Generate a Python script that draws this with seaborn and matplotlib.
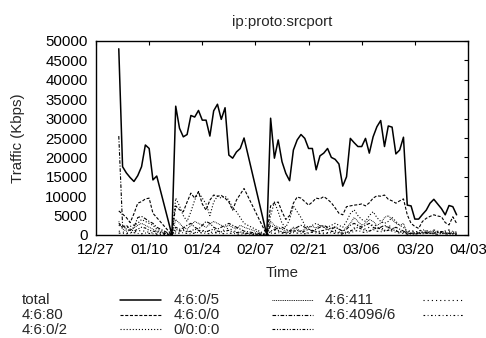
import pandas as pd
import numpy as np
import matplotlib
matplotlib.use('Agg')
import matplotlib.pyplot as plt
import matplotlib.dates as mdates
from matplotlib.lines import Line2D
import seaborn as sns

# day offsets from 2003-12-27 that have samples (gaps are drawn straight across)
day_offsets = list(range(6, 17)) + [20] + list(range(21, 40)) + [45] + list(range(46, 96))
start = pd.Timestamp('2003-12-27')
dates = start + pd.to_timedelta(day_offsets, unit='D')

# traffic in thousands of Kbps, one list per series
total = [48.0, 17.6, 16.0, 14.8, 13.8, 15.3, 17.6, 23.2, 22.3, 14.2, 15.2,
         0,
         33.2, 27.5, 25.3, 25.9, 30.8, 30.4, 32.1, 29.6, 29.6, 25.5, 32.0, 33.7, 29.8, 32.8,
         20.6, 19.8, 21.4, 22.3, 25.0,
         0,
         30.1, 19.8, 24.5, 18.9, 15.9, 14.0, 21.9, 24.5, 25.9, 24.9,
         22.3, 22.3, 16.8, 20.4, 21.1, 22.3, 20.0, 19.5, 18.3, 12.6,
         15.0, 24.9, 23.8, 22.8, 22.8, 24.9, 21.1, 25.3, 27.9, 29.5,
         22.8, 28.1, 27.8, 20.9, 21.9, 25.2, 7.7, 7.5, 4.1, 4.1,
         5.3, 6.4, 8.2, 9.2, 8.0, 6.8, 5.2, 7.6, 7.3, 5.2]
p80 = [6.2, 5.4, 4.5, 3.2, 5.5, 8.2, 8.6, 9.3, 9.5, 5.6, 4.5,
       0,
       7.5, 6.5, 6.0, 8.5, 10.8, 9.5, 11.2, 8.0, 6.4, 9.0, 10.3, 10.0, 10.2, 9.5,
       8.5, 6.4, 9.0, 10.5, 12.0,
       0,
       7.5, 8.2, 8.5, 6.0, 4.0, 5.0, 8.2, 9.8, 9.5, 8.6,
       7.7, 8.5, 9.5, 9.3, 9.9, 9.2, 8.3, 7.0, 5.6, 5.2,
       7.3, 7.5, 7.7, 7.8, 8.0, 7.5, 8.3, 9.5, 10.1, 10.0,
       10.3, 9.2, 8.8, 8.2, 8.8, 9.3, 5.2, 3.0, 2.2, 1.7,
       3.5, 4.3, 4.8, 5.2, 4.9, 4.7, 3.2, 2.6, 4.7, 3.0]
p0_2 = [2.5, 2.0, 1.8, 2.2, 2.6, 3.0, 4.0, 3.5, 3.0, 2.5, 1.5,
        0,
        9.5, 7.5, 5.0, 3.5, 6.0, 9.0, 11.0, 9.5, 8.0, 5.0, 8.5, 10.0, 9.5, 10.0,
        9.0, 7.0, 6.0, 4.5, 3.0,
        0,
        5.0, 8.5, 6.0, 3.0, 2.0, 4.0, 7.5, 6.0, 4.5, 2.5,
        2.0, 2.5, 3.0, 2.5, 2.0, 2.0, 2.5, 3.0, 2.5, 2.0,
        3.5, 5.5, 6.5, 5.0, 4.0, 3.5, 5.0, 6.0, 4.5, 3.5,
        3.0, 3.5, 4.5, 3.5, 2.5, 2.0, 0.8, 0.5, 0.3, 0.4,
        0.6, 0.8, 0.5, 0.4, 0.7, 0.6, 0.4, 0.5, 0.3, 0.2]
p0_5 = [3.5, 1.5, 1.0, 1.2, 1.8, 2.5, 3.0, 2.5, 2.0, 1.5, 1.0,
        0,
        4.0, 3.0, 2.0, 1.5, 2.5, 3.5, 3.0, 2.5, 2.0, 2.8, 3.5, 3.0, 2.5, 2.0,
        2.5, 2.0, 1.5, 2.5, 2.0,
        0,
        3.5, 2.5, 2.0, 1.5, 1.0, 1.2, 2.0, 1.5, 1.0, 1.5,
        2.0, 2.2, 1.8, 2.5, 2.0, 1.5, 1.8, 2.2, 1.5, 1.0,
        2.0, 3.0, 4.5, 3.5, 2.5, 3.0, 4.0, 3.5, 2.5, 3.0,
        4.5, 5.0, 4.0, 3.0, 2.5, 3.0, 0.5, 0.4, 0.3, 0.5,
        0.6, 0.4, 0.7, 0.9, 0.6, 0.5, 0.4, 0.6, 0.5, 0.3]
p0_0 = [25.5, 2.5, 1.5, 1.2, 2.0, 4.5, 4.8, 4.2, 3.5, 3.0, 2.0,
        0,
        2.0, 1.5, 1.8, 2.5, 3.0, 2.0, 1.5, 2.5, 3.5, 3.0, 2.0, 1.5, 2.0, 2.5,
        3.0, 2.5, 2.0, 1.5, 1.0,
        0,
        2.5, 2.0, 1.5, 2.0, 1.5, 1.0, 1.5, 2.0, 2.5, 2.0,
        1.5, 1.0, 1.5, 2.0, 2.5, 2.0, 1.5, 2.0, 1.5, 1.0,
        1.5, 2.5, 3.0, 2.5, 2.0, 2.5, 3.0, 2.0, 1.5, 2.0,
        2.5, 2.0, 1.5, 2.0, 1.5, 1.0, 0.3, 0.4, 0.6, 0.5,
        0.8, 0.6, 0.4, 0.5, 0.7, 0.9, 0.6, 0.4, 0.5, 0.3]
p_any = [3.0, 2.0, 2.5, 1.5, 1.0, 1.5, 2.0, 1.8, 1.2, 1.0, 0.8,
         0,
         1.5, 1.0, 1.2, 0.8, 1.0, 1.5, 1.2, 1.0, 0.8, 1.2, 1.5, 1.0, 0.8, 1.0,
         1.2, 0.8, 0.6, 0.8, 0.5,
         0,
         1.0, 1.5, 1.2, 0.8, 0.6, 0.8, 1.0, 1.2, 0.8, 1.0,
         1.5, 1.2, 0.8, 1.0, 1.2, 1.5, 1.0, 0.8, 0.6, 0.5,
         0.8, 1.0, 1.5, 2.0, 1.5, 1.2, 1.0, 1.5, 2.0, 1.5,
         1.0, 1.2, 1.5, 1.0, 0.8, 0.6, 0.2, 0.3, 0.2, 0.4,
         0.3, 0.5, 0.4, 0.3, 0.2, 0.4, 0.3, 0.2, 0.3, 0.2]
p411 = [1.0, 0.8, 0.5, 0.6, 0.8, 1.0, 1.2, 0.9, 0.7, 0.5, 0.4,
        0,
        0.8, 1.2, 1.5, 1.0, 0.8, 0.6, 0.9, 1.2, 1.0, 0.8, 0.6, 0.8, 1.0, 1.4,
        1.8, 1.2, 0.8, 0.6, 0.5,
        0,
        0.8, 1.2, 1.0, 0.6, 0.5, 0.7, 0.9, 1.1, 0.8, 0.6,
        0.5, 0.8, 1.0, 0.7, 0.5, 0.6, 0.9, 1.2, 0.8, 0.4,
        0.6, 1.0, 1.8, 2.5, 2.0, 1.5, 2.0, 2.8, 2.2, 1.5,
        1.8, 2.5, 2.0, 1.2, 1.0, 0.8, 1.0, 0.8, 0.6, 0.9,
        1.2, 1.0, 0.8, 1.1, 0.9, 0.7, 0.8, 1.0, 0.8, 0.6]
p4096 = [0.5, 0.4, 0.3, 0.5, 0.6, 0.4, 0.3, 0.5, 0.4, 0.3, 0.2,
         0,
         0.4, 0.5, 0.6, 0.4, 0.3, 0.5, 0.7, 0.5, 0.4, 0.3, 0.5, 0.6, 0.4, 0.3,
         0.5, 0.4, 0.3, 0.2, 0.3,
         0,
         0.5, 0.4, 0.6, 0.5, 0.3, 0.4, 0.6, 0.5, 0.4, 0.3,
         0.5, 0.7, 0.5, 0.4, 0.3, 0.5, 0.6, 0.4, 0.3, 0.2,
         0.4, 0.6, 0.9, 1.2, 0.8, 0.6, 1.0, 1.4, 1.0, 0.8,
         1.2, 1.5, 1.0, 0.7, 0.5, 0.4, 0.9, 1.2, 0.8, 1.0,
         1.4, 1.1, 0.9, 1.3, 1.0, 0.8, 1.1, 1.3, 0.9, 0.7]

series_names = ['total', '4:6:80', '4:6:0/2', '4:6:0/5', '4:6:0/0', '0/0:0:0', '4:6:411', '4:6:4096/6']
series_values = [total, p80, p0_2, p0_5, p0_0, p_any, p411, p4096]

# gnuplot-like monochrome line types
styles = {
    'total': dict(linestyle='-', lw=1.1),
    '4:6:80': dict(linestyle=(0, (2.2, 1.2)), lw=0.8),
    '4:6:0/2': dict(linestyle=(0, (0.8, 1.4)), lw=0.8),
    '4:6:0/5': dict(linestyle=(0, (0.6, 0.7)), lw=0.7),
    '4:6:0/0': dict(linestyle=(0, (2.6, 1.2, 0.8, 1.2)), lw=0.8),
    '0/0:0:0': dict(linestyle=(0, (2.0, 1.2, 0.8, 1.2, 0.8, 1.2)), lw=0.8),
    '4:6:411': dict(linestyle=(0, (0.8, 2.2)), lw=0.8),
    '4:6:4096/6': dict(linestyle=(0, (1.2, 1.8, 0.6, 1.8)), lw=0.8),
}

sns.set_theme(style='white')
plt.rcParams['font.family'] = ['Liberation Sans', 'DejaVu Sans']
plt.rcParams['lines.scale_dashes'] = False
FS = 10.8

W, H = 486, 338
fig = plt.figure(figsize=(W / 100, H / 100), dpi=100)
ax = fig.add_axes([96 / W, 1 - 235 / H, 372 / W, 194 / H])

for name, vals in zip(series_names, series_values):
    sns.lineplot(x=dates, y=np.array(vals) * 1000, ax=ax, color='black', **styles[name])

ax.set_xlim(start, pd.Timestamp('2004-04-03'))
ax.set_ylim(0, 50000)
ax.set_xticks(pd.date_range(start, periods=8, freq='14D'))
ax.xaxis.set_major_formatter(mdates.DateFormatter('%m/%d'))
ax.set_yticks(range(0, 50001, 5000))

ax.tick_params(direction='in', top=True, right=True, length=3, width=0.8,
               labelsize=FS, colors='black', pad=6)
for sp in ax.spines.values():
    sp.set_color('black')
    sp.set_linewidth(1.0)

ax.set_title('ip:proto:srcport', fontsize=FS, pad=11)
ax.set_xlabel('Time', fontsize=FS)
ax.set_ylabel('Traffic (Kbps)', fontsize=FS)
ax.xaxis.set_label_coords(0.5, -0.16)
ax.yaxis.set_label_coords(-0.19, 0.5)

# key below the plot: three columns, label then a line sample (gnuplot style)
key_columns = [['total', '4:6:80', '4:6:0/2'],
               ['4:6:0/5', '4:6:0/0', '0/0:0:0'],
               ['4:6:411', '4:6:4096/6']]
for ci, names in enumerate(key_columns):
    x0 = 22 + ci * 151.5
    for ri, name in enumerate(names):
        yc = 300 + ri * 14.5
        fig.text(x0 / W, 1 - (yc + 4.5) / H, name, fontsize=FS, ha='left', va='baseline')
        fig.add_artist(Line2D([(x0 + 98) / W, (x0 + 139) / W], [1 - yc / H] * 2,
                              transform=fig.transFigure, color='black', **styles[name]))

fig.savefig('out.png', dpi=100)
